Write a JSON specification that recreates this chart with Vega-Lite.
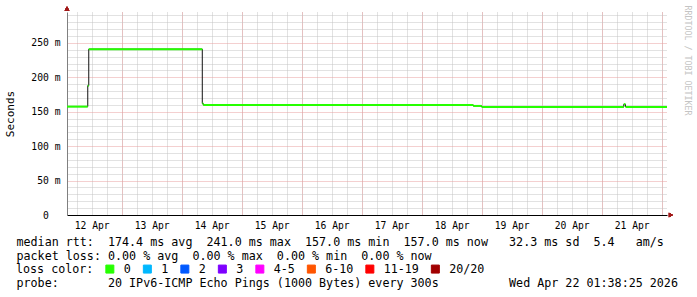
{
  "$schema": "https://vega.github.io/schema/vega-lite/v6.json",
  "width": 600,
  "height": 203,
  "autosize": {"type": "none"},
  "padding": {"left": 67, "top": 12, "right": 30, "bottom": 82},
  "background": "white",
  "config": {
    "view": {"stroke": null},
    "font": "DejaVu Sans Mono"
  },
  "data": {
    "values": [
      {"t": "2026-04-12T02:07:00Z", "t2": "2026-04-12T10:25:00Z", "v": 157.5, "loss": "0"},
      {"t": "2026-04-12T10:25:00Z", "t2": "2026-04-12T10:49:00Z", "v": 188, "loss": "0"},
      {"t": "2026-04-12T10:49:00Z", "t2": "2026-04-14T08:14:00Z", "v": 241, "loss": "0"},
      {"t": "2026-04-14T08:14:00Z", "t2": "2026-04-14T08:38:00Z", "v": 162, "loss": "0"},
      {"t": "2026-04-14T08:38:00Z", "t2": "2026-04-18T20:37:00Z", "v": 160, "loss": "0"},
      {"t": "2026-04-18T20:37:00Z", "t2": "2026-04-19T00:00:00Z", "v": 158.5, "loss": "0"},
      {"t": "2026-04-19T00:00:00Z", "t2": "2026-04-21T08:50:00Z", "v": 157, "loss": "0"},
      {"t": "2026-04-21T08:50:00Z", "t2": "2026-04-21T09:30:00Z", "v": 161, "loss": "0"},
      {"t": "2026-04-21T09:30:00Z", "t2": "2026-04-22T02:07:00Z", "v": 157, "loss": "0"}
    ]
  },
  "layer": [
    {
      "mark": {"type": "line", "interpolate": "step-after", "color": "#111111", "strokeWidth": 1},
      "encoding": {
        "x": {
          "field": "t", "type": "temporal",
          "scale": {"type": "utc", "nice": false, "domain": ["2026-04-12T02:07:00Z", "2026-04-22T02:07:00Z"]},
          "axis": {"orient": "bottom", "tickCount": 40, "grid": true, "gridColor": "#c4c4c4", "gridDash": [1, 1], "labels": false, "ticks": false, "domain": false, "title": null}
        },
        "y": {
          "field": "v", "type": "quantitative",
          "scale": {"domain": [0, 295], "nice": false, "zero": true},
          "axis": {"orient": "left", "values": [10, 20, 30, 40, 60, 70, 80, 90, 110, 120, 130, 140, 160, 170, 180, 190, 210, 220, 230, 240, 260, 270, 280, 290], "grid": true, "gridColor": "#c4c4c4", "gridDash": [1, 1], "labels": false, "ticks": false, "domain": false, "title": null}
        }
      }
    },
    {
      "mark": {"type": "rule", "strokeWidth": 2},
      "encoding": {
        "x": {
          "field": "t", "type": "temporal",
          "scale": {"type": "utc", "nice": false, "domain": ["2026-04-12T02:07:00Z", "2026-04-22T02:07:00Z"]},
          "axis": {
            "orient": "bottom", "tickCount": 10,
            "grid": true, "gridColor": "#e8a0a0", "gridDash": [1, 1],
            "ticks": false, "domain": true, "domainColor": "#000000", "domainWidth": 1,
            "labelOffset": -30, "labelExpr": "utcFormat(datum.value - 86400000, '%d %b')",
            "labelFont": "DejaVu Sans Mono", "labelFontSize": 9.7, "labelColor": "#000000", "labelPadding": 5,
            "labelFlush": false, "labelOverlap": false, "labelBound": false,
            "title": [
              "median\u00a0rtt:\u00a0\u00a0174.4\u00a0ms\u00a0avg\u00a0\u00a0241.0\u00a0ms\u00a0max\u00a0\u00a0157.0\u00a0ms\u00a0min\u00a0\u00a0157.0\u00a0ms\u00a0now\u00a0\u00a0\u00a032.3\u00a0ms\u00a0sd\u00a0\u00a05.4\u00a0\u00a0\u00a0am/s",
              "packet\u00a0loss:\u00a00.00\u00a0%\u00a0avg\u00a0\u00a00.00\u00a0%\u00a0max\u00a0\u00a00.00\u00a0%\u00a0min\u00a0\u00a00.00\u00a0%\u00a0now"
            ],
            "titleX": -51, "titleY": 30, "titleAlign": "left", "titleBaseline": "alphabetic", "titleAngle": 0,
            "titleFont": "DejaVu Sans Mono", "titleFontSize": 11.7, "titleFontWeight": "normal", "titleLineHeight": 14, "titleColor": "#000000"
          }
        },
        "x2": {"field": "t2"},
        "y": {
          "field": "v", "type": "quantitative",
          "scale": {"domain": [0, 295], "nice": false, "zero": true},
          "axis": {
            "orient": "left", "values": [0, 50, 100, 150, 200, 250],
            "grid": false,
            "ticks": false, "domain": true, "domainColor": "#808080", "domainWidth": 1,
            "labelExpr": "datum.value == 0 ? '0\u00a0\u00a0\u200b' : datum.value + '\u00a0m'",
            "labelFont": "DejaVu Sans Mono", "labelFontSize": 9.7, "labelColor": "#000000", "labelPadding": 7,
            "title": "Seconds", "titleX": -57, "titleY": 101.5, "titleAngle": -90, "titleAlign": "center", "titleBaseline": "middle",
            "titleFont": "DejaVu Sans Mono", "titleFontSize": 11, "titleFontWeight": "normal", "titleColor": "#000000"
          }
        },
        "color": {
          "field": "loss", "type": "nominal",
          "scale": {"domain": ["0", "1", "2", "3", "4-5", "6-10", "11-19", "20/20"], "range": ["#26ff00", "#00b8ff", "#0059ff", "#7e00ff", "#ff00ff", "#ff5500", "#ff0000", "#a10000"]},
          "legend": {
            "orient": "none", "legendX": -51, "legendY": 251, "direction": "horizontal", "columns": 8,
            "title": "loss color:", "titleOrient": "left", "titleFont": "DejaVu Sans Mono", "titleFontSize": 11.7, "titleFontWeight": "normal", "titleColor": "#000000", "titlePadding": 10, "titleBaseline": "middle",
            "labelFont": "DejaVu Sans Mono", "labelFontSize": 11.7, "labelColor": "#000000", "labelOffset": 8,
            "symbolType": "square", "symbolSize": 64, "symbolStrokeWidth": 1, "symbolStrokeColor": "#000000",
            "columnPadding": 9.5, "padding": 0, "offset": 0,
            "encode": {"symbols": {"update": {"fill": {"scale": "color", "field": "value"}, "fillOpacity": {"value": 1}, "stroke": {"value": "#000000"}, "strokeWidth": {"value": 1}}}}
          }
        }
      }
    },
    {
      "mark": {"type": "point", "shape": "triangle-up", "filled": true, "color": "#a01818", "size": 22, "opacity": 1},
      "encoding": {
        "x": {"datum": 1775959620000, "type": "temporal",
          "scale": {"type": "utc", "nice": false, "domain": ["2026-04-12T02:07:00Z", "2026-04-22T02:07:00Z"]},
          "axis": {"orient": "bottom", "labels": false, "ticks": false, "domain": false, "grid": false,
            "title": "probe:\u00a0\u00a0\u00a0\u00a0\u00a0\u00a0\u00a020\u00a0IPv6-ICMP\u00a0Echo\u00a0Pings\u00a0(1000\u00a0Bytes)\u00a0every\u00a0300s\u00a0\u00a0\u00a0\u00a0\u00a0\u00a0\u00a0\u00a0\u00a0\u00a0Wed\u00a0Apr\u00a022\u00a001:38:25\u00a02026",
            "titleX": -51, "titleY": 71, "titleAlign": "left", "titleBaseline": "alphabetic", "titleAngle": 0,
            "titleFont": "DejaVu Sans Mono", "titleFontSize": 11.7, "titleFontWeight": "normal", "titleColor": "#000000"}},
        "y": {"datum": 300, "type": "quantitative", "scale": {"domain": [0, 295], "nice": false, "zero": true},
          "axis": {"orient": "left", "values": [50, 100, 150, 200, 250], "grid": true, "gridColor": "#e8a0a0", "gridDash": [1, 1], "labels": false, "ticks": false, "domain": false, "title": null}}
      }
    },
    {
      "mark": {"type": "point", "shape": "triangle-right", "filled": true, "color": "#a01818", "size": 22, "opacity": 1},
      "encoding": {
        "x": {"datum": 1776829200000, "type": "temporal",
          "scale": {"type": "utc", "nice": false, "domain": ["2026-04-12T02:07:00Z", "2026-04-22T02:07:00Z"]},
          "axis": null},
        "y": {"datum": 0, "type": "quantitative", "scale": {"domain": [0, 295], "nice": false, "zero": true},
          "axis": {"orient": "right", "labels": false, "ticks": false, "domain": false, "grid": false,
            "title": "RRDTOOL / TOBI OETIKER", "titleAngle": 90, "titleX": 19, "titleY": -7, "titleAlign": "left", "titleBaseline": "middle",
            "titleFont": "DejaVu Sans Mono", "titleFontSize": 8.3, "titleFontWeight": "normal", "titleColor": "#c4c4c4"}}
      }
    }
  ],
  "resolve": {"axis": {"x": "independent", "y": "independent"}}
}
